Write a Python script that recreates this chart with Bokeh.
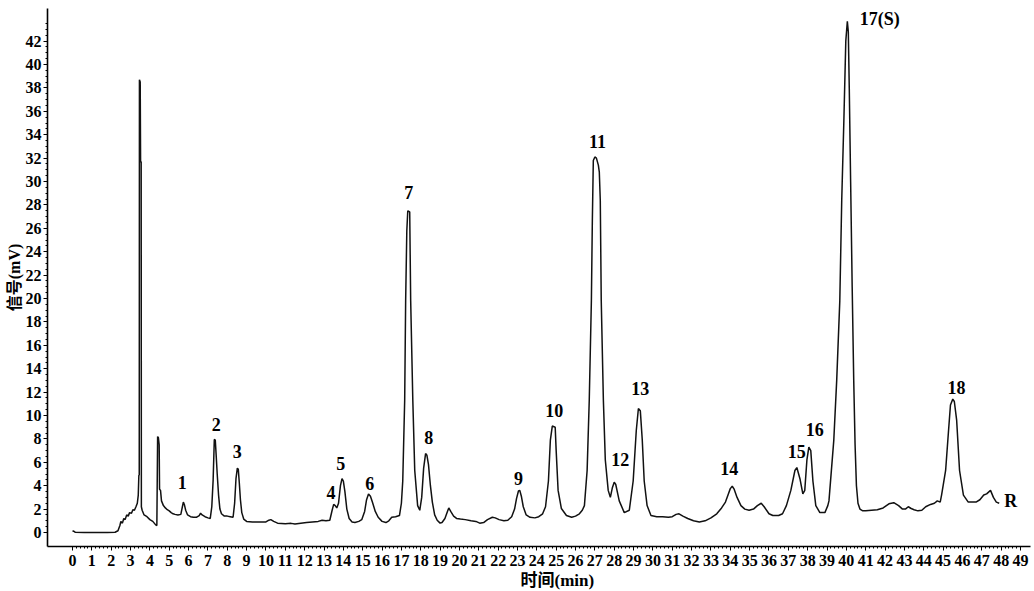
from bokeh.plotting import figure
from bokeh.models import FixedTicker, LabelSet, ColumnDataSource, Range1d, Title
from bokeh.embed import file_html
from bokeh.resources import INLINE
from bokeh.core.properties import value

# ---- data ----
time_min = [0.00, 0.06, 0.15, 0.6, 1.2, 1.8, 2.2, 2.35, 2.45, 2.5, 2.58, 2.65, 2.72, 2.8, 2.88, 2.95,
            3.05, 3.12, 3.2, 3.28, 3.35, 3.4, 3.43, 3.45, 3.46, 3.5, 3.52, 3.55, 3.56, 3.6, 3.7, 3.85,
            4.0, 4.15, 4.3, 4.36, 4.4, 4.44, 4.48, 4.5, 4.55, 4.6, 4.7, 4.8, 4.9, 5.0, 5.1, 5.2, 5.3,
            5.45, 5.6, 5.68, 5.73, 5.78, 5.85, 5.95, 6.1, 6.25, 6.4, 6.55, 6.62, 6.7, 6.85, 7.0, 7.12,
            7.2, 7.27, 7.33, 7.38, 7.43, 7.48, 7.55, 7.62, 7.7, 7.85, 8.0, 8.15, 8.3, 8.38, 8.45, 8.52,
            8.57, 8.62, 8.68, 8.75, 8.85, 9.0, 9.3, 9.7, 10.0, 10.15, 10.25, 10.4, 10.6, 11.0, 11.3,
            11.5, 11.8, 12.1, 12.4, 12.7, 12.9, 13.1, 13.3, 13.42, 13.5, 13.58, 13.66, 13.75, 13.85,
            13.93, 14.0, 14.08, 14.18, 14.3, 14.45, 14.6, 14.8, 14.95, 15.1, 15.2, 15.3, 15.4, 15.5,
            15.65, 15.8, 16.0, 16.2, 16.35, 16.5, 16.7, 16.9, 17.0, 17.07, 17.17, 17.22, 17.28, 17.33,
            17.43, 17.48, 17.59, 17.69, 17.84, 17.95, 18.05, 18.15, 18.25, 18.32, 18.4, 18.5, 18.6,
            18.72, 18.85, 19.0, 19.1, 19.25, 19.38, 19.45, 19.55, 19.7, 19.85, 20.05, 20.3, 20.6,
            20.85, 21.05, 21.25, 21.45, 21.7, 21.85, 22.05, 22.3, 22.5, 22.7, 22.85, 22.95, 23.05,
            23.12, 23.2, 23.3, 23.45, 23.65, 23.9, 24.1, 24.3, 24.45, 24.6, 24.7, 24.8, 24.95, 25.0,
            25.1, 25.27, 25.53, 25.8, 26.0, 26.2, 26.35, 26.46, 26.6, 26.71, 26.82, 26.87, 26.92,
            27.0, 27.08, 27.18, 27.23, 27.28, 27.33, 27.44, 27.54, 27.69, 27.8, 27.9, 28.0, 28.08,
            28.26, 28.52, 28.78, 28.98, 29.14, 29.25, 29.35, 29.45, 29.55, 29.7, 29.9, 30.2, 30.5,
            30.8, 31.0, 31.2, 31.35, 31.55, 31.8, 32.1, 32.4, 32.7, 33.0, 33.3, 33.55, 33.75, 33.9,
            34.0, 34.1, 34.2, 34.35, 34.55, 34.75, 34.97, 35.2, 35.4, 35.6, 35.75, 36.0, 36.2, 36.5,
            36.7, 36.9, 37.13, 37.34, 37.44, 37.6, 37.75, 37.85, 37.96, 38.06, 38.16, 38.27, 38.42,
            38.63, 38.89, 39.04, 39.1, 39.35, 39.5, 39.66, 39.76, 39.87, 39.97, 40.05, 40.1, 40.15,
            40.22, 40.3, 40.38, 40.45, 40.52, 40.6, 40.7, 40.85, 41.0, 41.3, 41.6, 41.9, 42.2, 42.45,
            42.7, 42.9, 43.05, 43.2, 43.35, 43.5, 43.7, 43.9, 44.1, 44.35, 44.55, 44.7, 44.85, 44.92,
            45.13, 45.28, 45.38, 45.5, 45.58, 45.7, 45.85, 46.05, 46.3, 46.5, 46.7, 46.9, 47.1, 47.25,
            47.45, 47.6, 47.75, 47.9]

signal_mv = [0.10, 0.12, 0.02, 0.0, 0.0, 0.0, 0.02, 0.15, 0.6, 0.95, 0.8, 1.2, 1.1, 1.5, 1.4, 1.7,
             1.65, 1.95, 1.9, 2.2, 2.5, 3.2, 4.9, 4.9, 38.7, 38.5, 31.7, 31.7, 2.2, 1.9, 1.5, 1.35,
             1.1, 0.95, 0.65, 0.6, 8.2, 8.1, 7.5, 3.7, 3.6, 2.7, 2.3, 2.1, 1.95, 1.85, 1.7, 1.6, 1.55,
             1.5, 1.55, 2.2, 2.6, 2.4, 1.9, 1.5, 1.35, 1.3, 1.3, 1.45, 1.65, 1.5, 1.35, 1.25, 1.2,
             2.2, 4.5, 7.95, 7.9, 6.5, 5.0, 3.2, 2.0, 1.6, 1.4, 1.4, 1.35, 1.3, 2.5, 4.6, 5.5,
             5.4, 4.3, 2.8, 1.7, 1.15, 0.95, 0.9, 0.9, 0.9, 1.05, 1.1, 0.95, 0.8, 0.75, 0.78,
             0.72, 0.8, 0.85, 0.9, 0.95, 1.05, 1.0, 1.05, 1.9, 2.4, 2.3, 2.1, 2.5, 4.0,
             4.6, 4.4, 3.5, 2.0, 1.2, 0.9, 0.85, 0.95, 1.1, 1.8, 2.8, 3.3, 3.1, 2.6,
             1.8, 1.3, 0.95, 0.85, 1.0, 1.3, 1.35, 1.45, 2.5, 4.4, 11.3, 19.8, 25.8, 27.5,
             27.4, 19.8, 11.3, 5.3, 2.3, 1.9, 3.0, 5.5, 6.75, 6.6, 5.8, 4.0, 2.6,
             1.5, 1.05, 0.8, 0.85, 1.2, 1.8, 2.1, 1.8, 1.4, 1.2, 1.15, 1.1, 1.0,
             0.95, 0.8, 0.85, 1.1, 1.3, 1.25, 1.1, 1.0, 1.05, 1.35, 2.0, 2.9, 3.55,
             3.6, 3.1, 2.2, 1.5, 1.3, 1.25, 1.35, 1.6, 2.2, 4.4, 7.9, 9.1, 9.0, 7.0,
             3.6, 2.05, 1.45, 1.3, 1.4, 1.6, 1.9, 2.3, 5.3, 11.3, 19.8, 26.7, 31.8,
             32.1, 32.0, 31.4, 30.8, 28.4, 19.8, 11.3, 6.2, 3.6, 3.0, 3.8, 4.3, 4.1,
             2.7, 1.7, 1.9, 4.4, 8.7, 10.6, 10.4, 7.9, 4.4, 2.3, 1.45, 1.35, 1.35,
             1.3, 1.35, 1.55, 1.6, 1.4, 1.2, 1.0, 0.9, 1.0, 1.25, 1.6, 2.1, 2.6, 3.3,
             3.75, 3.95, 3.7, 3.0, 2.3, 2.0, 1.9, 2.0, 2.3, 2.5, 2.2, 1.6, 1.45, 1.45,
             1.6, 2.3, 3.6, 5.3, 5.55, 4.6, 3.3, 3.6, 6.2, 7.3, 7.0, 4.4, 2.3,
             1.7, 1.7, 2.3, 2.7, 7.9, 13.0, 19.8, 28.4, 35.2, 42.0, 43.7, 42.8, 38.0,
             30.0, 21.0, 13.0, 7.5, 4.0, 2.5, 2.0, 1.85, 1.85, 1.9, 1.95, 2.1, 2.45, 2.55,
             2.3, 2.0, 2.0, 2.2, 2.05, 1.95, 1.85, 1.9, 2.2, 2.4, 2.5, 2.7, 2.6, 3.2,
             5.3, 8.7, 10.9, 11.4, 11.2, 9.6, 5.3, 3.2, 2.6, 2.6, 2.6, 2.8, 3.2, 3.3,
             3.6, 3.0, 2.6, 2.5]

peak_names = ["1", "2", "3", "4", "5", "6", "7", "8", "9", "10", "11", "12", "13", "14",
              "15", "16", "17(S)", "18", "R"]
peak_label_time = [5.67, 7.43, 8.51, 13.36, 13.87, 15.37, 17.38, 18.41, 23.05, 24.9, 27.13,
                   28.31, 29.35, 33.94, 37.44, 38.37, 41.72, 45.69, 48.5]
peak_label_mv = [4.27, 9.2, 6.9, 3.4, 5.9, 4.2, 29.1, 8.1, 4.6, 10.4, 33.4,
                 6.2, 12.3, 5.5, 6.9, 8.8, 43.9, 12.4, 2.7]

x_ticks = list(range(0, 50))
y_ticks = list(range(0, 43, 2))
x_title = "时间(min)"
y_title = "信号(mV)"

SERIF = "'Liberation Serif', 'Noto Sans CJK SC'"

p = figure(width=1034, height=591, output_backend="svg", toolbar_location=None,
           x_range=Range1d(-1.292, 49.517), y_range=Range1d(-1.197, 44.79),
           min_border_left=47, min_border_right=4, min_border_top=8, min_border_bottom=45)
p.background_fill_color = "white"
p.border_fill_color = "white"
p.outline_line_color = None
p.grid.visible = False

p.line(time_min, signal_mv, line_color="#111111", line_width=1.5)

# axes
p.xaxis.ticker = FixedTicker(ticks=x_ticks, minor_ticks=[i * 0.2 for i in range(0, 246)])
p.yaxis.ticker = FixedTicker(ticks=y_ticks, minor_ticks=[i * 0.5 for i in range(0, 88)])
for ax in (p.xaxis[0], p.yaxis[0]):
    ax.axis_line_color = "black"
    ax.axis_line_width = 1.6
    ax.major_tick_line_color = "black"
    ax.minor_tick_line_color = "black"
    ax.major_tick_in = 0
    ax.minor_tick_in = 0
    ax.major_label_text_font = "Liberation Serif"
    ax.major_label_text_font_size = "16px"
    ax.major_label_text_font_style = "bold"
    ax.major_label_text_color = "black"
p.xaxis.major_tick_out = 4
p.xaxis.minor_tick_out = 2
p.xaxis.major_label_standoff = 4
p.yaxis.major_tick_out = 4
p.yaxis.minor_tick_out = 2
p.yaxis.major_label_standoff = 2

# axis titles
p.add_layout(Title(text=x_title, align="left", offset=473, standoff=0,
                   text_font=SERIF, text_font_size="17px", text_font_style="bold",
                   text_color="black"), "below")
p.add_layout(Title(text=y_title, align="center", standoff=0,
                   text_font=SERIF, text_font_size="16px", text_font_style="bold",
                   text_color="black"), "left")

# peak labels
src = ColumnDataSource(dict(x=peak_label_time, y=peak_label_mv, text=peak_names))
p.add_layout(LabelSet(x="x", y="y", text="text", source=src, text_align="center",
                      text_baseline="middle", text_font=value("Liberation Serif"),
                      text_font_size="18px", text_font_style="bold", text_color="black"))

open("out.html", "w").write(file_html(p, INLINE))
